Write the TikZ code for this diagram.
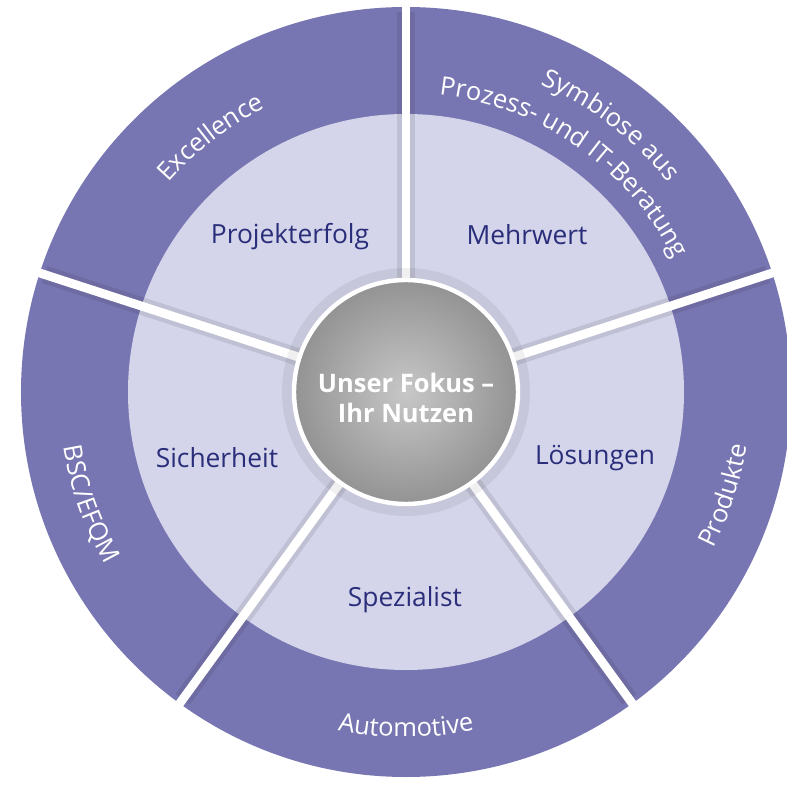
\documentclass[tikz,border=0pt]{standalone}
\usepackage{fontspec}
\setmainfont{Open Sans}
\usetikzlibrary{decorations.text}

\definecolor{ringpurple}{RGB}{120,118,178}
\definecolor{ringlight}{RGB}{212,212,234}
\definecolor{labelblue}{RGB}{42,46,122}

\newcommand\ringfont{\fontsize{14.5}{16}\selectfont}
% curved white text on the outer ring
\newcommand\ringtext[4]{%
  \path[decorate, decoration={text along path, text align=center, text color=white,
      text={|\ringfont|#4}}] (#2:#1) arc[start angle=#2, end angle=#3, radius=#1];
}

\tikzset{
  innerlabel/.style={text=labelblue, font=\fontsize{15}{17}\selectfont},
  gapline/.style={white, line width=5pt},
  gapshadow/.style={black, opacity=.09, line width=10pt},
}

\begin{document}
\begin{tikzpicture}[x=0.02cm, y=0.02cm]
  \useasboundingbox (-406,-399) rectangle (381,392);

  % rings
  \fill[ringpurple] (0,0) circle[radius=385];
  \fill[ringlight] (0,0) circle[radius=278];

  % gaps between the five sectors
  \foreach \a in {90,18,-54,-126,162}
    \draw[gapshadow] (\a:112) -- (\a:380);
  \foreach \a in {90,18,-54,-126,162}
    \draw[gapline] (\a:100) -- (\a:400);

  % centre disc
  \fill[black, opacity=.06] (0,0) circle[radius=124];
  \shade[inner color=black!22, outer color=black!42] (0,0) circle[radius=110];
  \draw[white, line width=2.5pt] (0,0) circle[radius=112];

  \node[align=center, text=white, font=\fontsize{14.5}{17}\selectfont\bfseries]
    (fokus) at (0,-6) {Unser Fokus --\\Ihr Nutzen};

  % inner ring
  \node[innerlabel] (projekterfolg) at (-116,155) {Projekterfolg};
  \node[innerlabel] (mehrwert) at (121,157) {Mehrwert};
  \node[innerlabel] (loesungen) at (189,-66) {Lösungen};
  \node[innerlabel] (spezialist) at (-1,-208) {Spezialist};
  \node[innerlabel] (sicherheit) at (-189,-66) {Sicherheit};

  % outer ring
  \ringtext{317}{150}{105}{Excellence}
  \ringtext{336}{85}{20}{Symbiose aus}
  \ringtext{299}{92}{18}{Prozess- und IT-Beratung}
  \ringtext{345}{-40}{4}{Produkte}
  \ringtext{345}{-120}{-60}{Automotive}
  \ringtext{347}{175}{224}{BSC/EFQM}
\end{tikzpicture}
\end{document}
